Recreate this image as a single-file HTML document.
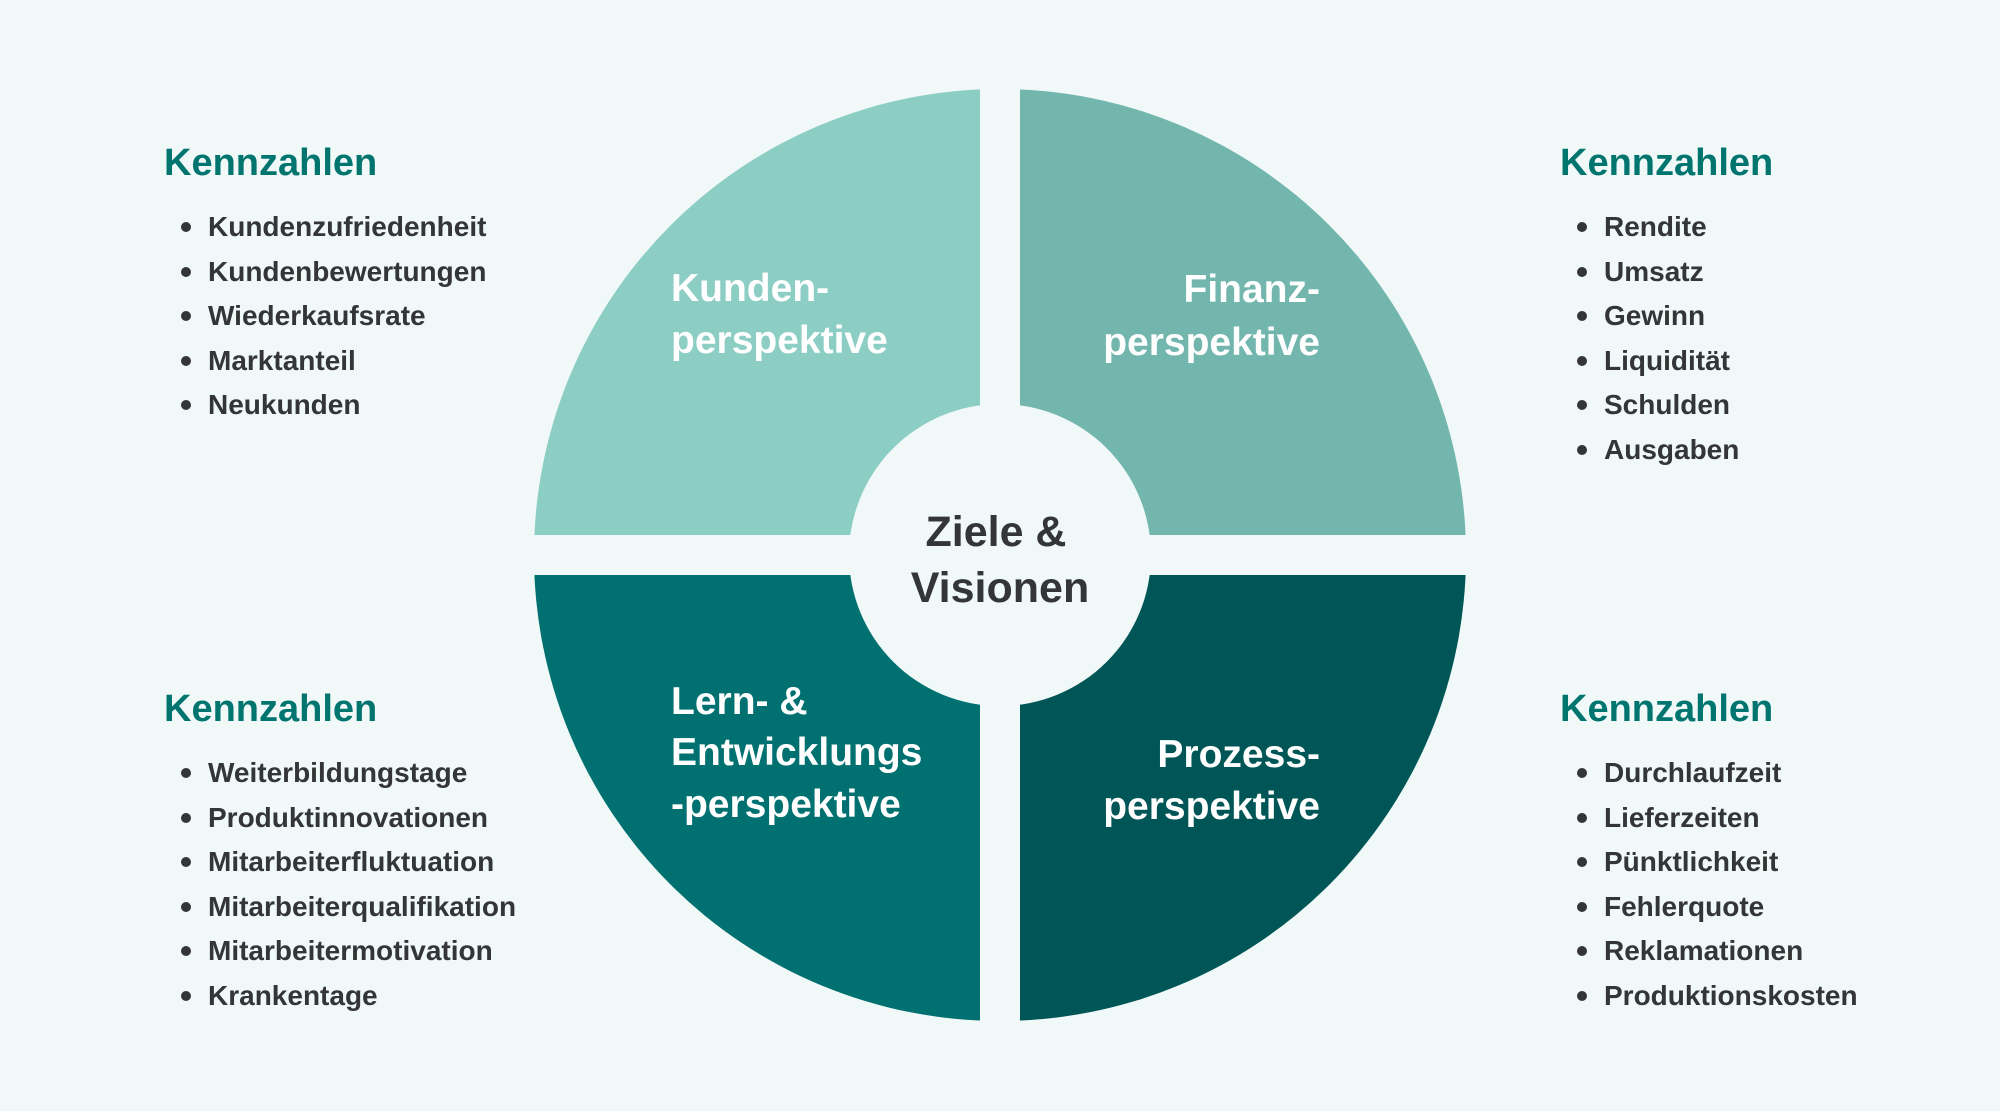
<!DOCTYPE html>
<html><head><meta charset="utf-8"><style>
html,body{margin:0;padding:0;background:#f0f8f8;}
svg{display:block;}
text{font-family:"Liberation Sans",Arial,sans-serif;font-weight:bold;}
.h{fill:#00756f;font-size:38px;}
.i{fill:#333536;font-size:28px;}
.q{fill:#ffffff;font-size:39px;}
.c{fill:#333536;font-size:43px;}
</style></head><body>
<svg width="2000" height="1111" viewBox="0 0 2000 1111" xmlns="http://www.w3.org/2000/svg">
<rect width="2000" height="1111" fill="#f0f8f8"/>
<defs>
<mask id="m">
<rect width="2000" height="1111" fill="white"/>
<rect x="980" y="0" width="40" height="1111" fill="black"/>
<rect x="0" y="535" width="2000" height="40" fill="black"/>
<circle cx="1000" cy="555" r="151" fill="black"/>
</mask>
</defs>
<g mask="url(#m)">
<path d="M1000,555 L534,555 A466,466 0 0 1 1000,89 Z" fill="#8ccdc4"/>
<path d="M1000,555 L1000,89 A466,466 0 0 1 1466,555 Z" fill="#72b6ad"/>
<path d="M1000,555 L1000,1021 A466,466 0 0 1 534,555 Z" fill="#007170"/>
<path d="M1000,555 L1466,555 A466,466 0 0 1 1000,1021 Z" fill="#005656"/>
</g>
<text class="q" x="671" y="301">Kunden-</text>
<text class="q" x="671" y="353">perspektive</text>
<text class="q" x="1320" y="302" text-anchor="end">Finanz-</text>
<text class="q" x="1320" y="355" text-anchor="end">perspektive</text>
<text class="q" x="671" y="714">Lern- &amp;</text>
<text class="q" x="671" y="765">Entwicklungs</text>
<text class="q" x="671" y="817">-perspektive</text>
<text class="q" x="1320" y="767" text-anchor="end">Prozess-</text>
<text class="q" x="1320" y="819" text-anchor="end">perspektive</text>
<text class="c" x="996" y="546" text-anchor="middle">Ziele &amp;</text>
<text class="c" x="1000" y="602" text-anchor="middle">Visionen</text>

<g fill="#333536">
<circle cx="186" cy="227" r="5"/><circle cx="186" cy="272" r="5"/><circle cx="186" cy="316" r="5"/><circle cx="186" cy="361" r="5"/><circle cx="186" cy="405" r="5"/>
<circle cx="1582" cy="227" r="5"/><circle cx="1582" cy="272" r="5"/><circle cx="1582" cy="316" r="5"/><circle cx="1582" cy="361" r="5"/><circle cx="1582" cy="405" r="5"/><circle cx="1582" cy="450" r="5"/>
<circle cx="186" cy="773" r="5"/><circle cx="186" cy="818" r="5"/><circle cx="186" cy="862" r="5"/><circle cx="186" cy="907" r="5"/><circle cx="186" cy="951" r="5"/><circle cx="186" cy="996" r="5"/>
<circle cx="1582" cy="773" r="5"/><circle cx="1582" cy="818" r="5"/><circle cx="1582" cy="862" r="5"/><circle cx="1582" cy="907" r="5"/><circle cx="1582" cy="951" r="5"/><circle cx="1582" cy="996" r="5"/>
</g>

<text class="h" x="164" y="175">Kennzahlen</text>
<text class="i" x="208" y="236">Kundenzufriedenheit</text>
<text class="i" x="208" y="281">Kundenbewertungen</text>
<text class="i" x="208" y="325">Wiederkaufsrate</text>
<text class="i" x="208" y="370">Marktanteil</text>
<text class="i" x="208" y="414">Neukunden</text>

<text class="h" x="1560" y="175">Kennzahlen</text>
<text class="i" x="1604" y="236">Rendite</text>
<text class="i" x="1604" y="281">Umsatz</text>
<text class="i" x="1604" y="325">Gewinn</text>
<text class="i" x="1604" y="370">Liquidität</text>
<text class="i" x="1604" y="414">Schulden</text>
<text class="i" x="1604" y="459">Ausgaben</text>

<text class="h" x="164" y="721">Kennzahlen</text>
<text class="i" x="208" y="782">Weiterbildungstage</text>
<text class="i" x="208" y="827">Produktinnovationen</text>
<text class="i" x="208" y="871">Mitarbeiterfluktuation</text>
<text class="i" x="208" y="916">Mitarbeiterqualifikation</text>
<text class="i" x="208" y="960">Mitarbeitermotivation</text>
<text class="i" x="208" y="1005">Krankentage</text>

<text class="h" x="1560" y="721">Kennzahlen</text>
<text class="i" x="1604" y="782">Durchlaufzeit</text>
<text class="i" x="1604" y="827">Lieferzeiten</text>
<text class="i" x="1604" y="871">Pünktlichkeit</text>
<text class="i" x="1604" y="916">Fehlerquote</text>
<text class="i" x="1604" y="960">Reklamationen</text>
<text class="i" x="1604" y="1005">Produktionskosten</text>
</svg>
</body></html>
